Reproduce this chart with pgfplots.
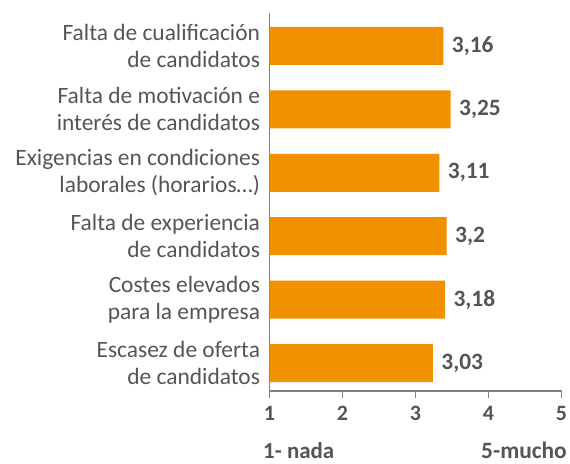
\documentclass[border=0pt]{standalone}
\usepackage{pgfplots}
\pgfplotsset{compat=1.18}
\usepackage{fontspec}
\setmainfont{Carlito}
\definecolor{barorange}{HTML}{F29100}
\definecolor{txtgray}{HTML}{555555}
\definecolor{axgray}{HTML}{808080}
\begin{document}
\begin{tikzpicture}
\path[use as bounding box] (0,0) rectangle (570bp,464bp);
\begin{axis}[
  at={(269.5bp,73bp)}, anchor=south west,
  scale only axis, width=292bp, height=378bp,
  xmin=1, xmax=4.627, ymin=-0.44, ymax=5.52,
  xbar, bar width=38bp, bar shift=0pt,
  axis x line*=bottom, axis y line*=left,
  axis line style={axgray, line width=1.2bp},
  tick align=outside, major tick length=7bp,
  xtick={1,1.907,2.814,3.720,4.627}, xticklabels={1,2,3,4,5},
  xtick style={draw=axgray, line width=1.2bp},
  xticklabel style={yshift=-5bp, font=\bfseries\fontsize{22}{22}\selectfont, text=txtgray},
  ytick={0,1,2,3,4,5},
  yticklabels={{Escasez de oferta\\de candidatos},{Costes elevados\\para la empresa},{Falta de experiencia\\de candidatos},{Exigencias en condiciones\\laborales (horarios\ldots)},{Falta de motivación e\\interés de candidatos},{Falta de cualificación\\de candidatos}},
  ytick style={draw=none},
  yticklabel style={align=right, font=\fontsize{23.5}{27}\selectfont, text=txtgray, xshift=1bp},
  extra y ticks={-0.44,5.52}, extra y tick labels={},
  extra y tick style={tick style={draw=axgray, line width=1.2bp}},
  point meta=explicit symbolic,
  nodes near coords,
  nodes near coords style={anchor=west, xshift=5bp, font=\bfseries\fontsize{23.5}{23.5}\selectfont, text=txtgray},
]
\addplot[fill=barorange, draw=none] table[x=v, y=y, meta=lab] {
v y lab
3.16 5 {3,16}
3.25 4 {3,25}
3.11 3 {3,11}
3.20 2 {3,2}
3.18 1 {3,18}
3.03 0 {3,03}
};
\end{axis}
\node[anchor=base west, inner sep=0pt, font=\bfseries\fontsize{23}{23}\selectfont, text=txtgray] at (263bp,6bp) {1- nada};
\node[anchor=base east, inner sep=0pt, font=\bfseries\fontsize{23.5}{23.5}\selectfont, text=txtgray] at (567bp,6bp) {5-mucho};
\end{tikzpicture}
\end{document}
